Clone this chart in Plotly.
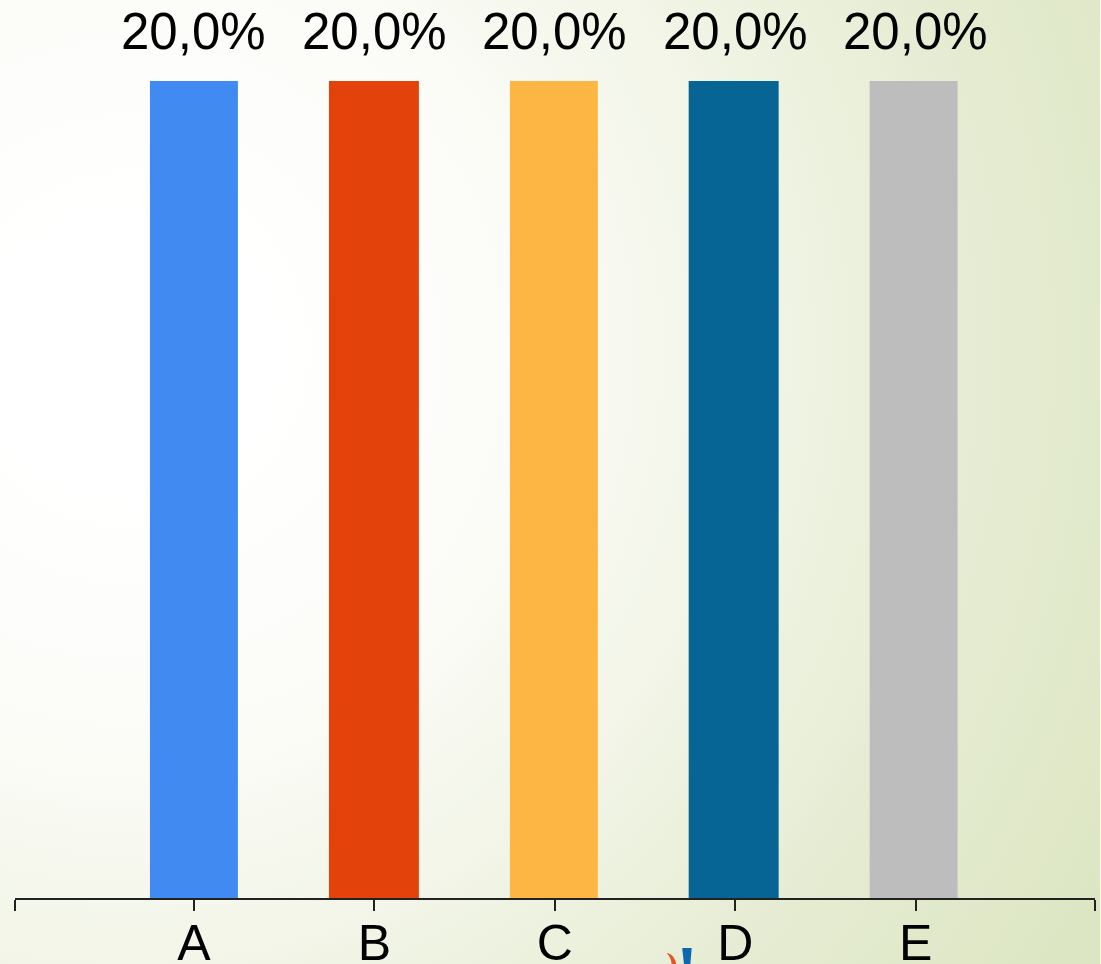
import base64
import plotly.graph_objects as go

categories = ["A", "B", "C", "D", "E"]
shares = [20.0, 20.0, 20.0, 20.0, 20.0]
bar_colors = ["#418AF2", "#E3420A", "#FDB643", "#066595", "#BDBDBD"]
share_labels = ["20,0%", "20,0%", "20,0%", "20,0%", "20,0%"]

WIDTH, HEIGHT = 1101, 964
LEFT, RIGHT, BOTTOM = 15, 5.5, 66
PLOT_W = WIDTH - LEFT - RIGHT
PLOT_H = HEIGHT - BOTTOM


def paper_x(px):
    return (px - LEFT) / PLOT_W


def paper_y(py):
    return (PLOT_H - py) / PLOT_H


# Soft white-to-sage radial wash behind the whole chart
backdrop_svg = f"""<svg xmlns="http://www.w3.org/2000/svg" width="{WIDTH}" height="{HEIGHT}">
<defs><radialGradient id="wash" gradientUnits="userSpaceOnUse" cx="130" cy="350" r="1120">
<stop offset="0.10" stop-color="#ffffff"/>
<stop offset="0.33" stop-color="#fcfdf9"/>
<stop offset="0.55" stop-color="#f2f5e7"/>
<stop offset="0.80" stop-color="#e4ebd0"/>
<stop offset="1" stop-color="#dde6c3"/>
</radialGradient></defs>
<rect width="{WIDTH}" height="{HEIGHT}" fill="url(#wash)"/>
</svg>"""
backdrop_uri = "data:image/svg+xml;base64," + base64.b64encode(backdrop_svg.encode()).decode()

positions = list(range(len(categories)))

fig = go.Figure(
    go.Bar(
        x=positions,
        y=shares,
        width=[0.4875, 0.4986, 0.4875, 0.4986, 0.4875],
        offset=[-0.244, -0.252, -0.249, -0.258, -0.255],
        marker=dict(color=bar_colors, line=dict(width=0)),
        hoverinfo="skip",
    )
)

# Cropped corner of a small logo under the axis
orange_path = (
    f"M {paper_x(667)} {paper_y(953)} "
    f"C {paper_x(673)} {paper_y(954)} {paper_x(676)} {paper_y(959)} {paper_x(677)} {paper_y(966)} "
    f"L {paper_x(672)} {paper_y(966)} "
    f"C {paper_x(672)} {paper_y(960)} {paper_x(670)} {paper_y(956)} {paper_x(667)} {paper_y(953)} Z"
)
blue_path = (
    f"M {paper_x(682.5)} {paper_y(948)} L {paper_x(692)} {paper_y(948)} "
    f"L {paper_x(690.5)} {paper_y(966)} L {paper_x(684.5)} {paper_y(966)} Z"
)

fig.update_layout(
    width=WIDTH,
    height=HEIGHT,
    margin=dict(l=LEFT, r=RIGHT, t=0, b=BOTTOM, autoexpand=False),
    paper_bgcolor="rgba(0,0,0,0)",
    plot_bgcolor="rgba(0,0,0,0)",
    showlegend=False,
    images=[
        dict(
            source=backdrop_uri,
            xref="paper",
            yref="paper",
            x=paper_x(0),
            y=paper_y(HEIGHT),
            sizex=WIDTH / PLOT_W,
            sizey=HEIGHT / PLOT_H,
            xanchor="left",
            yanchor="bottom",
            sizing="stretch",
            layer="below",
        )
    ],
    shapes=[
        dict(type="path", xref="paper", yref="paper", line=dict(width=0), fillcolor="#E3562A", path=orange_path),
        dict(type="path", xref="paper", yref="paper", line=dict(width=0), fillcolor="#0F67B0", path=blue_path),
    ],
    annotations=[
        dict(
            x=pos,
            y=value,
            xref="x",
            yref="y",
            text=label,
            showarrow=False,
            yanchor="bottom",
            yshift=19,
            font=dict(family="Liberation Sans", size=51, color="#000000"),
        )
        for pos, value, label in zip(positions, shares, share_labels)
    ],
)

fig.update_xaxes(
    range=[-0.992, 4.994],
    tickmode="array",
    tickvals=[-0.992, 0, 1, 2, 3, 4, 4.994],
    ticktext=[""] + categories + [""],
    ticks="outside",
    ticklen=11,
    tickwidth=2,
    tickcolor="#222222",
    showline=True,
    linecolor="#222222",
    linewidth=2,
    showgrid=False,
    zeroline=False,
    tickangle=0,
    automargin=False,
    ticklabelstandoff=-11,
    tickfont=dict(family="Liberation Sans", size=50, color="#000000"),
)
fig.update_yaxes(range=[0, 20 * PLOT_H / 817], visible=False, showgrid=False, zeroline=False, automargin=False)

fig.write_html("out.html", config={"displayModeBar": False})
